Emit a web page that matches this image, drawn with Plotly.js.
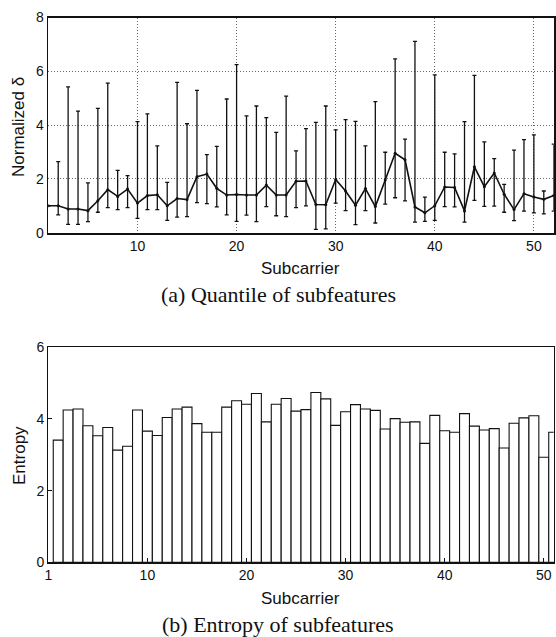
<!DOCTYPE html>
<html>
<head>
<meta charset="utf-8">
<script src="https://cdn.plot.ly/plotly-3.0.1.min.js"></script>
<style>html,body{margin:0;padding:0;background:#fff;}#chart{width:556px;height:637px;}</style>
</head>
<body>
<div id="chart"></div>
<script>
// ---- Data: (a) quantile of subfeatures ----
const subcarriersA = [1,2,3,4,5,6,7,8,9,10,11,12,13,14,15,16,17,18,19,20,21,22,23,24,25,26,27,28,29,30,31,32,33,34,35,36,37,38,39,40,41,42,43,44,45,46,47,48,49,50,51,52];
const medianDelta = [1.0,1.0,0.88,0.88,0.82,1.19,1.6,1.35,1.62,1.1,
                     1.38,1.41,1.0,1.27,1.23,2.08,2.18,1.65,1.4,1.42,
                     1.4,1.4,1.77,1.4,1.4,1.91,1.92,1.05,1.04,1.98,
                     1.55,1.02,1.64,0.97,1.96,2.95,2.71,0.96,0.74,1.0,
                     1.7,1.68,0.81,2.45,1.71,2.22,1.43,0.86,1.45,1.33,
                     1.24,1.38];
const upperDelta = [1.0,2.64,5.42,4.52,1.85,4.62,5.56,2.32,2.12,4.13,
                    4.42,3.23,1.87,5.59,4.05,5.29,2.9,3.21,4.97,6.25,
                    4.34,4.71,4.28,3.73,5.08,3.04,3.87,4.1,4.71,3.82,
                    4.2,4.14,3.23,4.87,2.99,6.46,3.48,7.11,1.32,5.87,
                    2.99,2.93,4.13,5.85,3.38,2.75,1.8,3.07,3.46,3.64,
                    1.55,3.29];
const lowerDelta = [1.0,0.66,0.31,0.31,0.41,0.76,0.93,0.86,0.93,0.53,
                    0.86,0.86,0.46,0.58,0.6,1.12,1.08,0.96,0.66,0.42,
                    0.65,0.41,0.97,0.63,0.6,0.93,1.0,0.12,0.14,1.1,
                    0.82,0.3,0.82,0.36,1.06,1.3,1.18,0.39,0.42,0.46,
                    0.97,0.96,0.39,1.2,0.98,0.99,0.76,0.45,0.8,0.74,
                    0.7,0.8];
const tickValsA = [10,20,30,40,50];

// ---- Data: (b) entropy of subfeatures ----
const subcarriersB = [1,2,3,4,5,6,7,8,9,10,11,12,13,14,15,16,17,18,19,20,21,22,23,24,25,26,27,28,29,30,31,32,33,34,35,36,37,38,39,40,41,42,43,44,45,46,47,48,49,50,51];
const entropy = [3.41,4.25,4.28,3.81,3.53,3.76,3.13,3.24,4.25,3.66,
                 3.54,4.04,4.28,4.33,3.87,3.63,3.63,4.33,4.51,4.41,
                 4.71,3.92,4.41,4.57,4.22,4.26,4.74,4.56,3.82,4.2,
                 4.4,4.28,4.24,3.72,4.01,3.91,3.92,3.32,4.1,3.67,
                 3.63,4.15,3.8,3.69,3.73,3.19,3.88,4.03,4.09,2.93,
                 3.63];
const tickValsB = [0,10,20,30,40,50];
const tickTextB = ['1','10','20','30','40','50'];

// ---- Traces ----
const errPlus = upperDelta.map((u, i) => u - medianDelta[i]);
const errMinus = lowerDelta.map((l, i) => medianDelta[i] - l);

const traceA = {
  type: 'scatter', mode: 'lines+markers',
  x: subcarriersA, y: medianDelta,
  xaxis: 'x', yaxis: 'y',
  line: {color: '#111', width: 1.6},
  marker: {color: '#111', size: 3},
  error_y: {type: 'data', symmetric: false, array: errPlus, arrayminus: errMinus,
            color: '#111', thickness: 1.3, width: 2},
  cliponaxis: true, showlegend: false, hoverinfo: 'skip'
};
const traceB = {
  type: 'bar', x: subcarriersB, y: entropy,
  xaxis: 'x2', yaxis: 'y2', width: 1,
  marker: {color: '#ffffff', line: {color: '#111', width: 1.1}},
  showlegend: false, hoverinfo: 'skip'
};

const W = 556, H = 637;
const px = v => v / W;
const py = v => 1 - v / H;
const sans = 'Liberation Sans, Arial, Helvetica, sans-serif';
const serif = 'Liberation Serif, Times New Roman, serif';

const axisCommon = {
  showline: true, linecolor: '#111', mirror: true, zeroline: false,
  tickfont: {family: sans, size: 14, color: '#111'},
  ticks: 'inside', ticklen: 3, tickcolor: '#111', fixedrange: true
};

const layout = {
  width: W, height: H,
  margin: {l: 0, r: 0, t: 0, b: 0},
  paper_bgcolor: '#fff', plot_bgcolor: '#fff',
  bargap: 0,
  xaxis: Object.assign({}, axisCommon, {
    domain: [px(48.3), px(553.7)], range: [1, 52], anchor: 'y',
    tickvals: tickValsA, showgrid: true, gridcolor: '#666', griddash: '1px,2px', gridwidth: 1,
    linewidth: 1.8, ticklen: 0
  }),
  yaxis: Object.assign({}, axisCommon, {
    domain: [py(232.7), py(17.5)], range: [0, 8], anchor: 'x',
    dtick: 2, tick0: 0, showgrid: true, gridcolor: '#666', griddash: '1px,2px', gridwidth: 1,
    linewidth: 1.8, ticklen: 0
  }),
  xaxis2: Object.assign({}, axisCommon, {
    domain: [px(48.3), px(553.7)], range: [0, 51], anchor: 'y2',
    tickvals: tickValsB, ticktext: tickTextB, showgrid: false, linewidth: 1.2, ticklen: 4
  }),
  yaxis2: Object.assign({}, axisCommon, {
    domain: [py(562.3), py(347.3)], range: [0, 6], anchor: 'x2',
    dtick: 2, tick0: 0, showgrid: false, linewidth: 1.2, ticklen: 4
  }),
  annotations: [
    {text: 'Subcarrier', x: px(300), y: py(268), xref: 'paper', yref: 'paper',
     xanchor: 'center', yanchor: 'middle', showarrow: false, font: {family: sans, size: 17, color: '#111'}},
    {text: '(a) Quantile of subfeatures', x: px(278), y: py(294), xref: 'paper', yref: 'paper',
     xanchor: 'center', yanchor: 'middle', showarrow: false, font: {family: serif, size: 22, color: '#111'}},
    {text: 'Normalized δ', x: px(19), y: py(127), xref: 'paper', yref: 'paper',
     xanchor: 'center', yanchor: 'middle', textangle: -90, showarrow: false, font: {family: sans, size: 17, color: '#111'}},
    {text: 'Subcarrier', x: px(300), y: py(598), xref: 'paper', yref: 'paper',
     xanchor: 'center', yanchor: 'middle', showarrow: false, font: {family: sans, size: 17, color: '#111'}},
    {text: '(b) Entropy of subfeatures', x: px(278), y: py(624), xref: 'paper', yref: 'paper',
     xanchor: 'center', yanchor: 'middle', showarrow: false, font: {family: serif, size: 22, color: '#111'}},
    {text: 'Entropy', x: px(19), y: py(456), xref: 'paper', yref: 'paper',
     xanchor: 'center', yanchor: 'middle', textangle: -90, showarrow: false, font: {family: sans, size: 17, color: '#111'}}
  ]
};

Plotly.newPlot('chart', [traceA, traceB], layout, {displayModeBar: false, staticPlot: true});
</script>
</body>
</html>
